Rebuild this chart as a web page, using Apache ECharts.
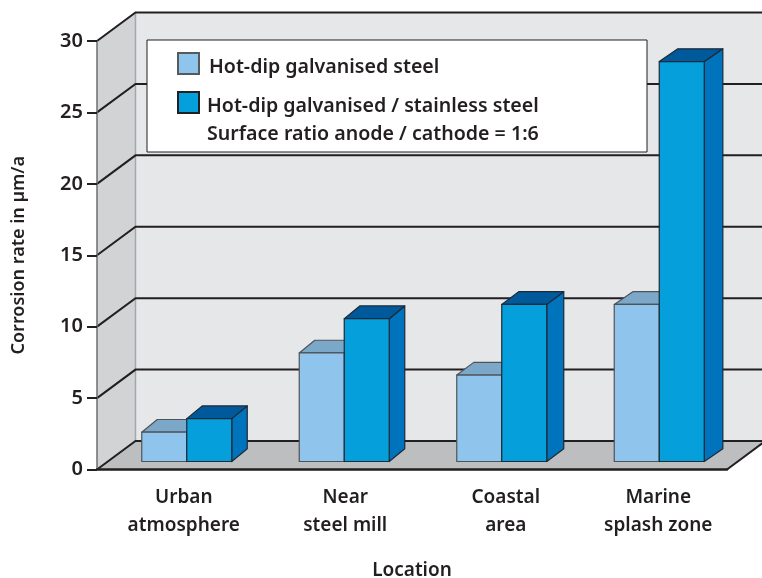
<!DOCTYPE html>
<html>
<head>
<meta charset="utf-8">
<style>html,body{margin:0;padding:0;background:#fff}#chart{width:762px;height:578px}</style>
<script src="https://cdn.jsdelivr.net/npm/echarts@6/dist/echarts.min.js"></script>
</head>
<body>
<div id="chart"></div>
<script>
var categories = ['Urban\natmosphere', 'Near\nsteel mill', 'Coastal\narea', 'Marine\nsplash zone'];
var galvanised = [2.05, 7.6, 6.05, 11];
var galvanisedStainless = [3, 10, 11, 28];
var yTicks = [0, 5, 10, 15, 20, 25, 30];
var nameGalvanised = 'Hot-dip galvanised steel';
var nameStainless = 'Hot-dip galvanised / stainless steel';
var legendNote = 'Surface ratio anode / cathode = 1:6';

var FONT = '"Noto Sans", sans-serif';
var INK = '#231f20';
var wall = { dx: 38.5, dy: 28.5 };
var bar = { dy: 12.7, width: 45, shiftX: 11, shiftY: 8 };
var barDepthX = [15.5, 15.5, 17, 18.6];
var labelPad = [16, 24, 30, 20];

// walls, floor and gridlines, all taken from the y scale
function renderRoom(params, api) {
	var cs = params.coordSys;
	var left = cs.x, right = cs.x + cs.width;
	var y0 = api.coord([0, 0])[1], yTop = api.coord([0, 30])[1];
	var children = [
		{ type: 'polygon', shape: { points: [[left + wall.dx, yTop - wall.dy], [right + wall.dx, yTop - wall.dy], [right + wall.dx, y0 - wall.dy], [left + wall.dx, y0 - wall.dy]] }, style: { fill: '#e6e7e8' } },
		{ type: 'polygon', shape: { points: [[left, yTop], [left + wall.dx, yTop - wall.dy], [left + wall.dx, y0 - wall.dy], [left, y0]] }, style: { fill: '#d1d3d4' } },
		{ type: 'polygon', shape: { points: [[left, y0], [left + wall.dx, y0 - wall.dy], [right + wall.dx, y0 - wall.dy], [right, y0]] }, style: { fill: '#bcbec0' } },
		{ type: 'line', shape: { x1: left + wall.dx, y1: yTop - wall.dy, x2: left + wall.dx, y2: y0 - wall.dy }, style: { stroke: '#a3a7ab', lineWidth: 1.5 } }
	];
	yTicks.forEach(function (t) {
		var y = api.coord([0, t])[1];
		children.push({ type: 'polyline', shape: { points: [[left, y], [left + wall.dx, y - wall.dy], [right + wall.dx, y - wall.dy]] }, style: { stroke: INK, lineWidth: 2, fill: null } });
	});
	children.push({ type: 'line', shape: { x1: right, y1: y0, x2: right + wall.dx, y2: y0 - wall.dy }, style: { stroke: INK, lineWidth: 2 } });
	return { type: 'group', children: children };
}

function makeBarRenderer(slot, topColor, sideColor, stroke) {
	return function (params, api) {
		var base = api.coord([api.value(0), 0]);
		var top = api.coord([api.value(0), api.value(1)]);
		var x = base[0] + bar.shiftX - bar.width + slot * bar.width;
		var yb = base[1] - bar.shiftY, yt = top[1] - bar.shiftY;
		var w = bar.width, dx = barDepthX[api.value(0)];
		var line = { stroke: stroke, lineWidth: 1.2, lineJoin: 'round' };
		return {
			type: 'group',
			children: [
				{ type: 'polygon', shape: { points: [[x + w, yt], [x + w + dx, yt - bar.dy], [x + w + dx, yb - bar.dy], [x + w, yb]] }, style: Object.assign({ fill: sideColor }, line) },
				{ type: 'polygon', shape: { points: [[x, yt], [x + dx, yt - bar.dy], [x + w + dx, yt - bar.dy], [x + w, yt]] }, style: Object.assign({ fill: topColor }, line) },
				{ type: 'rect', shape: { x: x, y: yt, width: w, height: yb - yt }, style: Object.assign({ fill: api.visual('color') }, line) }
			]
		};
	};
}

function pairs(values) {
	return values.map(function (v, i) { return [i, v]; });
}

// the label sits a little below the swatch centre, so it goes through a rich token with top padding
function legendText(leftPad) {
	return {
		rich: { t: { fontFamily: FONT, fontSize: 19.6, fontWeight: 600, color: INK, padding: [8, 0, 0, leftPad] } }
	};
}
function legendFormatter(name) {
	return '{t|' + name + '}';
}

var myChart = echarts.init(document.getElementById('chart'));
myChart.setOption({
	animation: false,
	grid: { left: 97, right: 35, top: 41, bottom: 108.5, outerBoundsMode: 'none' },
	graphic: [
		{ type: 'rect', z: 3, shape: { x: 147, y: 40, width: 500, height: 112 }, style: { fill: '#fff', stroke: INK, lineWidth: 1 } },
		{ type: 'text', z: 4, x: 207, y: 124, style: { text: legendNote, font: '600 19.6px ' + FONT, fill: INK } }
	],
	legend: [
		{ data: [{ name: nameGalvanised, icon: 'rect' }], left: 177, top: 52, itemWidth: 21, itemHeight: 21, padding: 0, z: 4, textStyle: legendText(5), formatter: legendFormatter, selectedMode: false },
		{ data: [{ name: nameStainless, icon: 'rect' }], left: 177, top: 91, itemWidth: 21, itemHeight: 21, padding: 0, z: 4, textStyle: legendText(3), formatter: legendFormatter, selectedMode: false }
	],
	xAxis: {
		type: 'category',
		data: categories,
		z: 5,
		name: 'Location',
		nameLocation: 'middle',
		nameGap: 92,
		nameTextStyle: { fontFamily: FONT, fontSize: 19, fontWeight: 600, color: INK },
		axisLine: { lineStyle: { color: INK, width: 2.5 } },
		axisTick: { length: 9, lineStyle: { color: INK, width: 2 } },
		axisLabel: {
			margin: 14,
			interval: 0,
			formatter: function (value, index) {
				return value.split('\n').map(function (s) { return '{l' + index + '|' + s + '}'; }).join('\n');
			},
			rich: labelPad.reduce(function (m, p, i) {
				m['l' + i] = { padding: [0, 0, 0, p], fontFamily: FONT, fontSize: 19, fontWeight: 600, color: INK, lineHeight: 28 };
				return m;
			}, {})
		}
	},
	yAxis: {
		type: 'value',
		min: 0,
		max: 30,
		interval: 5,
		z: 5,
		name: 'Corrosion rate in µm/a',
		nameLocation: 'middle',
		nameGap: 69,
		nameTextStyle: { fontFamily: FONT, fontSize: 18, fontWeight: 600, color: INK },
		axisLine: { show: true, lineStyle: { color: '#6d6e71', width: 1.5 } },
		axisTick: { show: true, length: 10, lineStyle: { color: INK, width: 2 } },
		axisLabel: { margin: 14, fontFamily: FONT, fontSize: 20, fontWeight: 600, color: INK, formatter: function (v) { return yTicks.indexOf(v) >= 0 ? v : ''; } },
		splitLine: { show: false }
	},
	series: [
		{ type: 'custom', name: 'room', z: 1, silent: true, renderItem: renderRoom, data: [[0, 0]] },
		{ type: 'custom', name: nameGalvanised, z: 2, itemStyle: { color: '#8fc5ec', borderColor: '#58595b', borderWidth: 1.2 }, renderItem: makeBarRenderer(0, '#7ba7c9', '#6f9fc4', '#4f5358'), encode: { x: 0, y: 1 }, data: pairs(galvanised) },
		{ type: 'custom', name: nameStainless, z: 2, itemStyle: { color: '#059fdc', borderColor: INK, borderWidth: 1.2 }, renderItem: makeBarRenderer(1, '#00599b', '#0073bd', '#1d2a38'), encode: { x: 0, y: 1 }, data: pairs(galvanisedStainless) }
	]
});
</script>
</body>
</html>
